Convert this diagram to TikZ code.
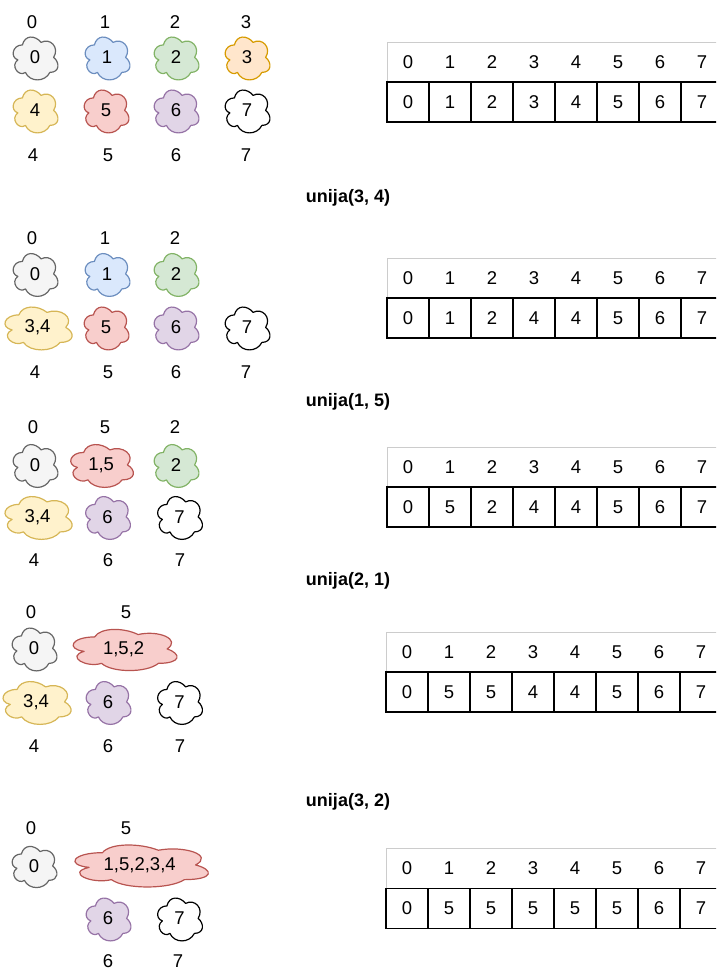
\documentclass[tikz,border=0pt]{standalone}
\usepackage{fontspec}
\setmainfont{Liberation Sans}
\definecolor{grayF}{HTML}{F5F5F5}\definecolor{grayS}{HTML}{666666}
\definecolor{blueF}{HTML}{DAE8FC}\definecolor{blueS}{HTML}{6C8EBF}
\definecolor{greenF}{HTML}{D5E8D4}\definecolor{greenS}{HTML}{82B366}
\definecolor{orangeF}{HTML}{FFE6CC}\definecolor{orangeS}{HTML}{D79B00}
\definecolor{yellowF}{HTML}{FFF2CC}\definecolor{yellowS}{HTML}{D6B656}
\definecolor{redF}{HTML}{F8CECC}\definecolor{redS}{HTML}{B85450}
\definecolor{purpleF}{HTML}{E1D5E7}\definecolor{purpleS}{HTML}{9673A6}
\definecolor{hdrgray}{HTML}{CCCCCC}

\tikzset{
  cloudline/.style={line width=1.2pt, line join=round},
  cgray/.style={cloudline, fill=grayF, draw=grayS},
  cblue/.style={cloudline, fill=blueF, draw=blueS},
  cgreen/.style={cloudline, fill=greenF, draw=greenS},
  corange/.style={cloudline, fill=orangeF, draw=orangeS},
  cyellow/.style={cloudline, fill=yellowF, draw=yellowS},
  cred/.style={cloudline, fill=redF, draw=redS},
  cpurple/.style={cloudline, fill=purpleF, draw=purpleS},
  cwhite/.style={cloudline, fill=white, draw=black},
  lbl/.style={inner sep=0pt, font=\fontsize{18.5}{20}\selectfont},
  heading/.style={inner sep=0pt, font=\fontsize{18}{20}\selectfont\bfseries},
  hdrcell/.style={inner sep=0pt, minimum width=42pt, minimum height=40pt, font=\fontsize{18.5}{20}\selectfont},
  datacell/.style={draw=black, line width=1.2pt, inner sep=0pt, minimum width=42pt, minimum height=40pt, font=\fontsize{18.5}{20}\selectfont},
  hdrline/.style={draw=hdrgray, line width=0.9pt},
}

% cloud outline: #1 name, #2/#3 centre of the outline, #4/#5 box size, #6 colour style, #7 text
\newcommand\setcloud[7]{%
  \begin{scope}[shift={({#2-0.512*#4},{#3-0.522*#5})}, x=#4pt, y=-#5pt]
    \draw[#6] (0.25,0.25) .. controls (0.05,0.25) and (0,0.5) .. (0.16,0.55)
      .. controls (0,0.66) and (0.18,0.9) .. (0.31,0.8)
      .. controls (0.4,1) and (0.7,1) .. (0.8,0.8)
      .. controls (1,0.8) and (1,0.6) .. (0.875,0.5)
      .. controls (1,0.3) and (0.8,0.1) .. (0.625,0.2)
      .. controls (0.5,0.05) and (0.3,0.05) .. (0.25,0.25) -- cycle;
  \end{scope}
  \node[lbl] (#1) at ({#2-0.012*#4},{#3-0.022*#5}) {#7};
}

% parent array: #1 id, #2 left, #3 top, #4 values
\newcommand\parenttable[4]{%
  \draw[hdrline] (#2,#3) rectangle ++(336,40);
  \foreach \v [count=\i from 0] in {#4} {
    \node[hdrcell] (#1h\i) at ({#2+21+42*\i},{#3+20}) {\i};
    \node[datacell] (#1d\i) at ({#2+21+42*\i},{#3+60}) {\v};
  }
}

\begin{document}
\begin{tikzpicture}[x=1pt, y=-1pt]
\useasboundingbox (0,0) rectangle (716,971);
\clip (0,0) rectangle (716,971);

% ---- initial state
\node[lbl] (a0t) at (32,22) {0};
\node[lbl] (a1t) at (105,22) {1};
\node[lbl] (a2t) at (175,22) {2};
\node[lbl] (a3t) at (246,22) {3};
\setcloud{a0}{35.5}{58.5}{50}{50}{cgray}{0}
\setcloud{a1}{107.5}{58.5}{50}{50}{cblue}{1}
\setcloud{a2}{176.5}{58.5}{50}{50}{cgreen}{2}
\setcloud{a3}{247.5}{58.5}{50}{50}{corange}{3}
\setcloud{a4}{35.5}{111.5}{50}{50}{cyellow}{4}
\setcloud{a5}{106.5}{111.5}{50}{50}{cred}{5}
\setcloud{a6}{176.5}{111.5}{50}{50}{cpurple}{6}
\setcloud{a7}{247.5}{111.5}{50}{50}{cwhite}{7}
\node[lbl] (a4b) at (33,155) {4};
\node[lbl] (a5b) at (108,155) {5};
\node[lbl] (a6b) at (176,155) {6};
\node[lbl] (a7b) at (246,155) {7};
\parenttable{ta}{387}{42}{0,1,2,3,4,5,6,7}

% ---- unija(3, 4)
\node[heading] (h1) at (348,198) {unija(3, 4)};
\node[lbl] (b0t) at (32,238) {0};
\node[lbl] (b1t) at (105,238) {1};
\node[lbl] (b2t) at (175,238) {2};
\setcloud{b0}{35.5}{275}{50}{50}{cgray}{0}
\setcloud{b1}{107.5}{275}{50}{50}{cblue}{1}
\setcloud{b2}{176.5}{275}{50}{50}{cgreen}{2}
\setcloud{b4}{38.5}{328.5}{75}{50}{cyellow}{3,4}
\setcloud{b5}{106.5}{328.5}{50}{50}{cred}{5}
\setcloud{b6}{176.5}{328.5}{50}{50}{cpurple}{6}
\setcloud{b7}{247.5}{328.5}{50}{50}{cwhite}{7}
\node[lbl] (b4b) at (35,372) {4};
\node[lbl] (b5b) at (108,372) {5};
\node[lbl] (b6b) at (176,372) {6};
\node[lbl] (b7b) at (246,372) {7};
\parenttable{tb}{387}{258}{0,1,2,4,4,5,6,7}

% ---- unija(1, 5)
\node[heading] (h2) at (348,402) {unija(1, 5)};
\node[lbl] (c0t) at (33,427) {0};
\node[lbl] (c5t) at (105,427) {5};
\node[lbl] (c2t) at (175,427) {2};
\setcloud{c0}{35.5}{466}{50}{50}{cgray}{0}
\setcloud{c5}{102}{466}{70}{50}{cred}{1,5}
\setcloud{c2}{176.5}{466}{50}{50}{cgreen}{2}
\setcloud{c4}{38.5}{518}{75}{50}{cyellow}{3,4}
\setcloud{c6}{108}{518}{50}{50}{cpurple}{6}
\setcloud{c7}{180}{518}{50}{50}{cwhite}{7}
\node[lbl] (c4b) at (34,560) {4};
\node[lbl] (c6b) at (108,560) {6};
\node[lbl] (c7b) at (180,560) {7};
\parenttable{tc}{387}{447}{0,5,2,4,4,5,6,7}

% ---- unija(2, 1)
\node[heading] (h3) at (348,581) {unija(2, 1)};
\node[lbl] (d0t) at (31,612) {0};
\node[lbl] (d5t) at (126,612) {5};
\setcloud{d0}{34.5}{649.5}{50}{50}{cgray}{0}
\setcloud{d5}{125}{650}{116}{48}{cred}{1,5,2}
\setcloud{d4}{37}{703}{76}{50}{cyellow}{3,4}
\setcloud{d6}{108.5}{703}{50}{50}{cpurple}{6}
\setcloud{d7}{180}{703}{50}{50}{cwhite}{7}
\node[lbl] (d4b) at (34,746) {4};
\node[lbl] (d6b) at (108,746) {6};
\node[lbl] (d7b) at (180,746) {7};
\parenttable{td}{386}{632}{0,5,5,4,4,5,6,7}

% ---- unija(3, 2)
\node[heading] (h4) at (348,802) {unija(3, 2)};
\node[lbl] (e0t) at (31,828) {0};
\node[lbl] (e5t) at (126,828) {5};
\setcloud{e0}{34.5}{867}{50}{48}{cgray}{0}
\setcloud{e5}{141.5}{866}{149}{49}{cred}{1,5,2,3,4}
\setcloud{e6}{108.5}{919.5}{50}{50}{cpurple}{6}
\setcloud{e7}{180}{919.5}{50}{50}{cwhite}{7}
\node[lbl] (e6b) at (108,961.5) {6};
\node[lbl] (e7b) at (178,961.5) {7};
\parenttable{te}{386}{848.5}{0,5,5,5,5,5,6,7}
\end{tikzpicture}
\end{document}
